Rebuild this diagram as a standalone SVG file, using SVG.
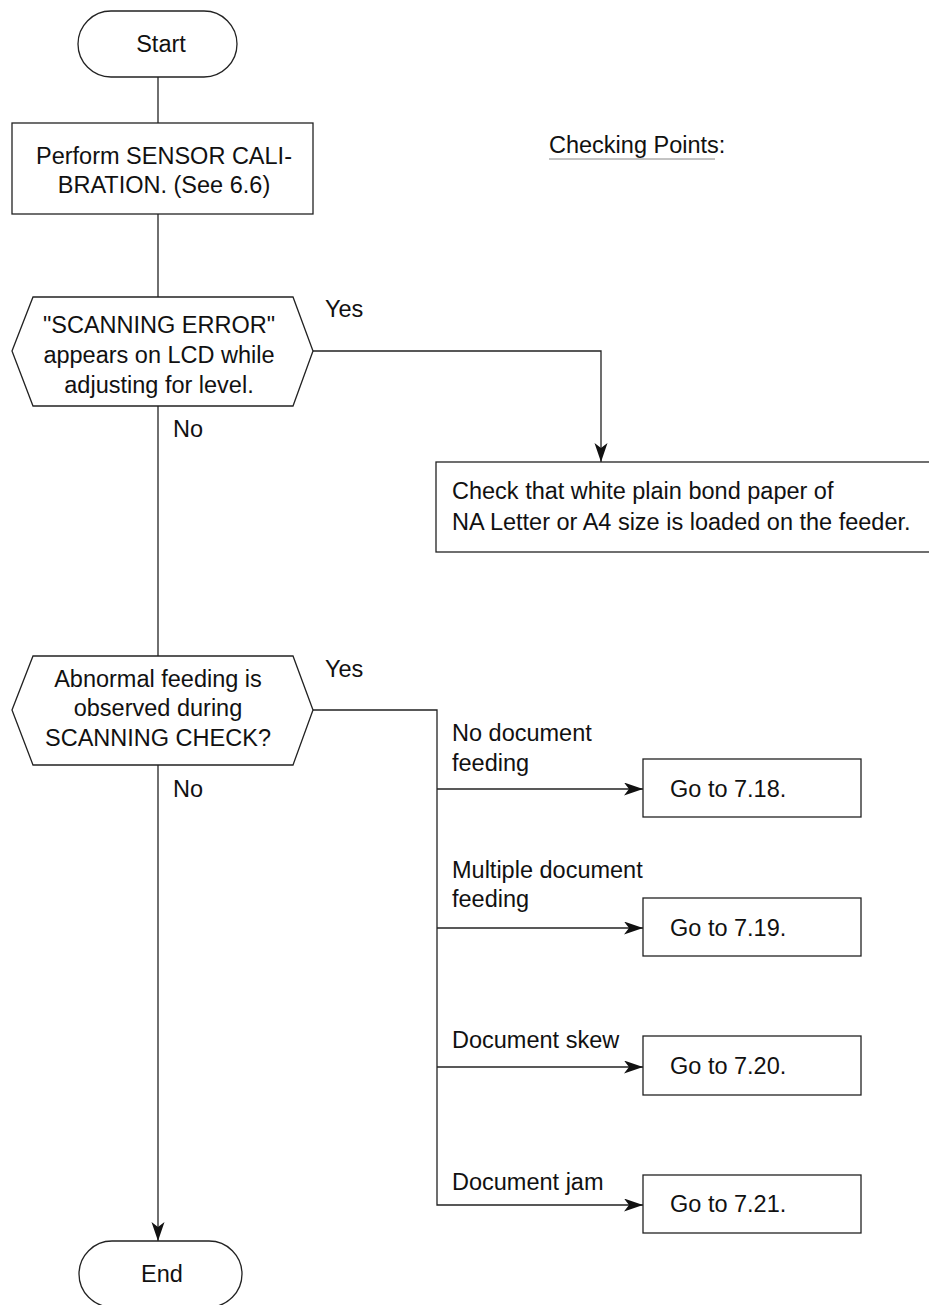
<svg xmlns="http://www.w3.org/2000/svg" width="929" height="1305" viewBox="0 0 929 1305">
<style>
.s{fill:#fff;stroke:#222;stroke-width:1.3}
.c{fill:none;stroke:#222;stroke-width:1.3}
text{font-family:"Liberation Sans",Arial,sans-serif;font-size:23.5px;fill:#111}
.m{text-anchor:middle}
</style>
<defs>
<marker id="ah" markerUnits="userSpaceOnUse" markerWidth="20" markerHeight="14" refX="19" refY="6.5" orient="auto">
<path d="M0,0 L19,6.5 L0,13 L5,6.5 Z" fill="#111"/>
</marker>
</defs>
<rect width="929" height="1305" fill="#fff"/>
<g id="connectors">
<path class="c" d="M158,77 V123"/>
<path class="c" d="M158,214 V297"/>
<path class="c" d="M158,406 V656"/>
<path class="c" d="M158,765 V1241" marker-end="url(#ah)"/>
<path class="c" d="M313,351 H601 V462" marker-end="url(#ah)"/>
<path class="c" d="M313,710 H437 V1205 H643" marker-end="url(#ah)"/>
<path class="c" d="M437,789 H643" marker-end="url(#ah)"/>
<path class="c" d="M437,928 H643" marker-end="url(#ah)"/>
<path class="c" d="M437,1067 H643" marker-end="url(#ah)"/>
</g>
<g id="start">
<rect class="s" x="78" y="11" width="159" height="66" rx="33" ry="33"/>
<text class="m" x="161" y="52">Start</text>
</g>
<g id="calib">
<rect class="s" x="12" y="123" width="301" height="91"/>
<text class="m" x="164" y="164">Perform SENSOR CALI-</text>
<text class="m" x="164" y="193">BRATION. (See 6.6)</text>
</g>
<g id="checking">
<text x="549" y="153">Checking Points:</text>
<line x1="549" y1="159" x2="715" y2="159" stroke="#888" stroke-width="1"/>
</g>
<g id="dec1">
<polygon class="s" points="12,351 33,297 293,297 313,351 293,406 33,406"/>
<text class="m" x="159" y="333">"SCANNING ERROR"</text>
<text class="m" x="159" y="363">appears on LCD while</text>
<text class="m" x="159" y="393">adjusting for level.</text>
<text x="325" y="317">Yes</text>
<text x="173" y="437">No</text>
</g>
<g id="checkpaper">
<rect class="s" x="436" y="462" width="500" height="90"/>
<text x="452" y="499">Check that white plain bond paper of</text>
<text x="452" y="530">NA Letter or A4 size is loaded on the feeder.</text>
</g>
<g id="dec2">
<polygon class="s" points="12,710 33,656 293,656 313,710 293,765 33,765"/>
<text class="m" x="158" y="687">Abnormal feeding is</text>
<text class="m" x="158" y="716">observed during</text>
<text class="m" x="158" y="746">SCANNING CHECK?</text>
<text x="325" y="677">Yes</text>
<text x="173" y="797">No</text>
</g>
<g id="labels">
<text x="452" y="741">No document</text>
<text x="452" y="771">feeding</text>
<text x="452" y="878">Multiple document</text>
<text x="452" y="907">feeding</text>
<text x="452" y="1048">Document skew</text>
<text x="452" y="1190">Document jam</text>
</g>
<g id="go718">
<rect class="s" x="643" y="759" width="218" height="58"/>
<text x="670" y="797">Go to 7.18.</text>
</g>
<g id="go719">
<rect class="s" x="643" y="898" width="218" height="58"/>
<text x="670" y="936">Go to 7.19.</text>
</g>
<g id="go720">
<rect class="s" x="643" y="1036" width="218" height="59"/>
<text x="670" y="1074">Go to 7.20.</text>
</g>
<g id="go721">
<rect class="s" x="643" y="1175" width="218" height="58"/>
<text x="670" y="1212">Go to 7.21.</text>
</g>
<g id="end">
<rect class="s" x="79" y="1241" width="163" height="66" rx="33" ry="33"/>
<text class="m" x="162" y="1282">End</text>
</g>
</svg>
